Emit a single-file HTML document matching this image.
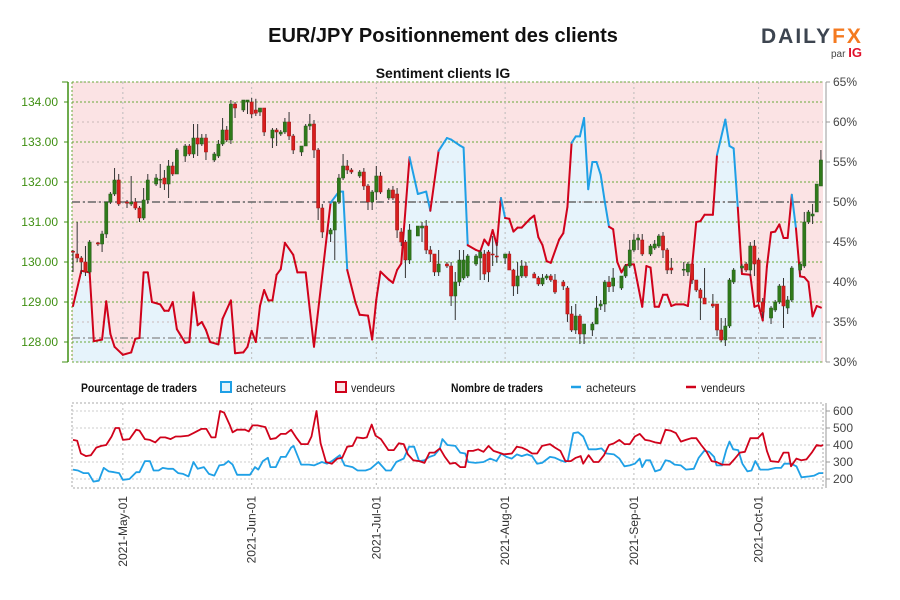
<!DOCTYPE html>
<html><head><meta charset="utf-8">
<style>
body{margin:0;background:#fff;}
svg{display:block;font-family:"Liberation Sans",sans-serif;}
.n{font-family:"Liberation Sans Narrow","Liberation Sans",sans-serif;}
</style></head>
<body>
<svg id="chart" width="900" height="600" viewBox="0 0 900 600">
<text x="443" y="42" text-anchor="middle" font-size="20" font-weight="bold" fill="#111">EUR/JPY Positionnement des clients</text>
<g>
<text x="761" y="43" font-size="21" font-weight="bold" fill="#3d4550" letter-spacing="2">DAILY<tspan fill="#f47a20">FX</tspan></text>
<text x="831" y="57" font-size="10" fill="#444">par <tspan fill="#e0102a" font-weight="bold" font-size="13">IG</tspan></text>
</g>
<text x="443" y="78" text-anchor="middle" font-size="14" font-weight="bold" fill="#111">Sentiment clients IG</text>
<g id="main"></g>
<g class="n" font-size="12">
<text x="81" y="392" font-weight="bold" fill="#111" textLength="116" lengthAdjust="spacingAndGlyphs">Pourcentage de traders</text>
<rect x="221" y="382" width="10" height="10" fill="#e6f3fb" stroke="#1fa0e6" stroke-width="2"/>
<text x="236" y="392" fill="#222" textLength="50" lengthAdjust="spacingAndGlyphs">acheteurs</text>
<rect x="336" y="382" width="10" height="10" fill="#fbe3e4" stroke="#d0021b" stroke-width="2"/>
<text x="351" y="392" fill="#222" textLength="44" lengthAdjust="spacingAndGlyphs">vendeurs</text>
<text x="451" y="392" font-weight="bold" fill="#111" textLength="92" lengthAdjust="spacingAndGlyphs">Nombre de traders</text>
<line x1="571" y1="387" x2="581" y2="387" stroke="#1fa0e6" stroke-width="2.5"/>
<text x="586" y="392" fill="#222" textLength="50" lengthAdjust="spacingAndGlyphs">acheteurs</text>
<line x1="686" y1="387" x2="696" y2="387" stroke="#d0021b" stroke-width="2.5"/>
<text x="701" y="392" fill="#222" textLength="44" lengthAdjust="spacingAndGlyphs">vendeurs</text>
</g>
<g id="sub"></g>
</svg>
<script>
// ---- data ----
const monthLabels = ["2021-May-01","2021-Jun-01","2021-Jul-01","2021-Aug-01","2021-Sep-01","2021-Oct-01"];
const monthDays = [12,43,73,104,135,165];
const priceTicks = [128,129,130,131,132,133,134];
const pctTicks = [30,35,40,45,50,55,60,65];
const countTicks = [200,300,400,500,600];

const sDays = [0,2,4,5,7,8,9,10,12,14,15,16,17,18,19,21,22,23,24,25,27,28,29,30,31,32,33,35,36,38,39,41,42,43,44,45,46,47,48,49,50,51,53,54,56,57,58,62,64,65,66,68,69,71,72,73,74,76,77,78,79,81,83,85,86,88,90,91,93,94,95,97,98,99,100,101,102,103,104,105,106,107,108,110,111,112,113,114,115,117,118,119,120,121,122,123,124,125,126,127,128,129,130,131,132,133,134,135,137,138,139,140,141,142,143,144,145,147,148,149,150,151,152,154,155,157,158,159,160,161,163,164,165,166,167,168,169,170,171,172,173,174,175,176,177,178,179,180];
const sPct = [37.0,41.4,41.2,32.6,32.8,37.6,33.5,31.9,30.9,31.2,32.9,33.0,41.2,41.2,37.5,37.2,36.4,36.4,37.5,34.1,32.4,32.5,38.7,34.6,35.0,34.0,32.5,32.2,35.4,37.7,31.1,31.2,31.9,33.9,32.5,37.0,39.0,37.7,37.7,40.9,41.6,44.9,43.4,41.2,41.2,36.5,31.9,49.9,51.3,51.3,41.5,37.4,35.9,35.8,32.8,37.8,41.3,40.3,39.9,41.5,42.3,55.6,51.0,51.3,48.9,56.4,58.0,57.8,57.1,56.8,44.6,44.0,43.8,45.3,44.6,46.5,44.6,50.5,48.0,47.9,46.3,46.8,46.8,47.9,48.3,45.6,44.6,42.6,42.4,45.3,46.1,49.4,57.4,58.2,58.2,60.5,51.6,55.0,55.0,53.4,50.0,46.9,46.6,42.5,41.2,42.1,42.2,42.2,36.9,42.0,41.8,36.9,36.9,38.4,38.4,37.0,37.2,37.2,37.0,42.0,47.5,47.6,48.4,48.4,55.9,60.3,57.0,56.7,49.3,41.0,40.9,36.9,37.1,35.2,41.9,46.2,46.3,47.2,45.5,45.5,50.9,46.7,40.7,40.6,40.0,35.7,37.0,36.8];

const cDays = [0,1,2,3,4,6,7,8,9,10,11,13,14,15,16,17,18,20,21,22,23,24,25,27,28,29,30,31,32,34,35,36,37,38,39,41,42,43,44,45,46,48,49,50,51,52,53,55,56,57,58,59,60,62,63,64,65,66,67,69,70,71,72,73,74,76,77,78,79,80,81,83,84,85,86,87,88,90,91,92,93,94,95,97,98,99,100,101,102,104,105,106,107,108,109,111,112,113,114,115,116,118,119,120,121,122,123,125,126,127,128,129,130,132,133,134,135,136,137,139,140,141,142,143,144,147,148,149,150,151,152,154,155,156,157,158,159,161,162,163,164,165,166,168,169,170,171,172,173,175,176,177,178,179,180];
const cOpen = [130.27,130.2,130.1,130.0,129.75,130.48,130.45,130.7,131.5,131.7,132.05,131.5,131.45,131.5,131.35,131.1,131.55,131.95,132.05,132.1,131.95,132.4,132.2,132.65,132.9,132.7,133.1,132.95,133.1,132.55,132.65,132.95,133.3,133.05,133.95,133.8,134.0,134.0,133.8,133.75,133.85,133.1,133.3,133.2,133.25,133.5,133.15,132.75,132.9,133.4,133.45,132.8,131.35,130.7,130.8,131.5,132.1,132.4,132.3,132.15,132.25,131.9,131.5,131.75,132.15,131.6,131.8,131.7,130.75,130.5,130.05,130.65,130.85,130.9,130.3,130.2,129.75,129.95,129.9,129.15,129.5,129.6,129.65,129.95,130.1,130.2,130.25,130.2,130.15,130.1,130.2,129.8,129.4,129.65,129.9,129.7,129.6,129.45,129.6,129.65,129.55,129.5,129.35,128.7,128.3,128.65,128.2,128.3,128.45,128.9,128.95,129.5,129.4,129.35,129.65,129.9,130.3,130.55,130.55,130.2,130.35,130.4,130.65,130.3,129.85,129.8,129.75,129.95,129.55,129.3,129.1,128.95,128.95,128.3,128.05,128.4,129.5,129.85,129.95,129.8,130.4,130.05,129.0,128.6,128.8,129.0,129.4,128.85,129.05,129.8,129.9,131.0,131.15,131.25,131.9];
const cHigh = [130.3,131.0,130.15,130.4,130.55,130.5,130.78,131.5,131.75,132.35,132.2,131.55,132.15,131.6,131.4,131.85,132.2,132.2,132.45,132.3,132.55,132.5,132.85,132.95,132.95,133.45,133.45,133.2,133.2,132.75,133.05,133.6,133.4,134.05,134.0,134.05,134.05,134.1,134.08,133.85,133.85,133.35,133.35,133.3,133.6,133.75,133.2,132.9,133.45,133.7,133.55,132.85,131.45,130.85,131.5,132.2,132.7,132.55,132.35,132.3,132.35,131.95,131.8,132.4,132.25,131.85,131.9,131.85,130.85,130.55,130.95,130.9,131.0,131.05,130.4,130.2,130.3,130.0,130.0,129.75,130.3,130.3,130.2,130.2,130.3,130.3,130.3,130.65,130.5,130.2,130.27,129.83,130.0,130.05,130.0,129.75,129.65,129.7,129.7,129.7,129.7,129.55,129.4,128.9,128.95,128.7,128.45,128.5,129.15,129.05,129.55,129.65,129.85,129.65,129.95,130.55,130.7,130.7,130.7,130.45,130.55,130.7,130.75,130.35,130.1,130.0,130.0,129.95,129.55,129.35,129.85,129.2,128.95,128.6,128.6,129.6,129.85,129.95,130.0,130.5,130.55,130.1,129.1,128.9,129.05,129.45,129.6,129.15,129.9,130.0,131.25,131.3,131.45,131.95,132.8];
const cLow = [129.75,130.0,129.7,129.65,129.7,130.4,130.25,130.6,131.45,131.65,131.4,131.35,131.4,131.3,131.0,131.05,131.45,131.9,131.85,131.8,131.6,132.15,132.2,132.5,132.65,132.6,132.65,132.9,132.55,132.5,132.6,132.9,133.0,132.95,133.6,133.75,133.7,133.6,133.65,133.65,133.15,132.85,132.9,133.15,133.2,133.05,132.7,132.65,132.9,133.3,132.6,131.05,130.6,130.5,130.05,131.45,132.05,132.2,132.2,132.1,131.8,131.3,131.3,131.55,131.7,131.55,131.55,130.6,130.4,129.6,129.95,130.65,130.5,130.2,130.0,129.65,129.65,129.85,128.9,128.55,129.4,129.55,129.6,129.9,129.55,129.55,129.5,129.9,129.98,129.95,129.8,129.15,129.2,129.6,129.6,129.6,129.4,129.4,129.55,129.5,129.2,129.3,128.5,128.25,128.2,127.95,127.95,128.15,128.45,128.8,128.75,129.25,129.25,129.3,129.6,129.85,130.25,130.3,130.15,130.15,130.3,130.35,130.1,129.7,129.7,129.65,129.65,129.45,129.25,128.55,128.95,128.85,128.15,128.0,127.9,128.35,129.45,129.75,129.75,129.65,129.65,128.95,128.6,128.45,128.75,128.95,128.35,128.7,129.0,129.7,129.85,130.95,130.95,131.25,131.9];
const cClose = [130.25,130.1,130.0,129.75,130.5,130.45,130.7,131.5,131.7,132.05,131.45,131.47,131.5,131.35,131.1,131.55,132.05,132.1,132.07,131.95,132.4,132.2,132.8,132.9,132.7,133.1,132.95,133.1,132.75,132.7,132.95,133.3,133.05,133.95,133.85,134.05,134.05,133.7,133.72,133.85,133.25,133.3,133.25,133.25,133.5,133.15,132.8,132.9,133.4,133.45,132.8,131.35,130.75,130.8,131.5,132.1,132.4,132.3,132.25,132.25,131.9,131.5,131.75,132.15,131.75,131.8,131.6,130.8,130.5,130.05,130.8,130.9,130.9,130.3,130.2,129.75,129.95,129.9,129.15,129.5,130.05,130.05,130.15,130.15,130.25,129.7,129.75,130.18,130.13,130.2,129.8,129.4,129.65,129.9,129.65,129.6,129.45,129.6,129.65,129.55,129.25,129.4,128.7,128.3,128.65,128.2,128.45,128.45,128.85,128.95,129.5,129.38,129.6,129.65,129.9,130.3,130.55,130.6,130.2,130.4,130.45,130.65,130.3,129.8,129.8,129.82,129.95,129.55,129.3,129.1,128.95,128.9,128.3,128.05,128.4,129.55,129.8,129.9,129.8,130.4,129.95,129.0,128.75,128.85,129.0,129.4,128.9,129.05,129.85,129.95,131.0,131.25,131.2,131.95,132.55];

const buyDays = [0,1.2,2.5,3.7,4.9,6.2,7.4,8.6,9.9,11.1,12,13.6,15.2,16,17.3,18.5,19.4,20.6,21.6,22.8,24.1,25.3,26.5,27.8,29,30,31.5,32.7,34,35.2,36.4,37.4,38.4,39.5,41.4,42.6,43.8,44.6,45.7,46.9,47.5,48.8,50,51.2,52.5,53.1,54.9,56.8,58,59.9,61.1,62.3,64.2,65.4,67.3,68.5,70.4,71.6,73.5,75.3,76.5,77.8,79.6,80.9,82.1,83.3,84.6,85.8,87,88.3,88.9,90.1,92,93.2,94.4,95.1,96.9,98.8,100.4,101.9,103.1,104.3,105.6,106.8,108,109.3,110.5,111.7,112.9,114.8,116,117.3,118.5,119.1,120.4,121.6,122.8,124.1,125.9,127.2,128.4,130.2,131.5,132.7,134,135.2,136.4,137,137.9,138.9,140.1,141.4,142.6,143.6,144.8,146.3,147.5,149.4,150.6,151.9,153.1,154.3,154.9,156.2,157.2,158,158.9,160.1,161.1,162.3,163.3,164.2,165.4,167.3,169.1,170.4,171.2,172.8,174.1,175.3,177.2,178.4,179.6,180.5];
const buyCount = [255,250,235,235,185,190,265,245,240,235,195,200,240,240,305,305,250,250,265,260,260,235,230,215,300,260,270,230,220,280,285,305,285,225,225,225,270,255,305,325,270,270,330,330,385,395,285,285,280,300,290,305,340,280,270,250,250,260,300,250,250,300,320,390,390,305,310,330,340,380,435,400,395,355,350,300,295,300,320,305,350,330,320,345,335,345,335,290,295,330,325,310,300,310,470,475,450,375,375,380,350,345,320,275,280,290,320,270,310,310,245,255,310,305,285,280,255,260,325,365,360,330,280,280,370,420,375,370,290,245,250,305,255,255,265,265,290,290,275,210,215,220,235,235];
const sellDays = [0,1,1.9,3.1,4.3,5.6,6.8,8,9.3,10.2,11.1,12,13.6,15.2,16,17.3,18.5,19.8,21,22.2,23.5,24.7,25.9,27.8,29,30.9,32.1,33.3,34.3,35.4,36.4,37.7,38.4,39.5,41.4,42.3,43.2,44.4,46.3,47.5,48.8,50,51.2,52.5,53.7,54.9,56.5,57.4,58.6,59.6,60.9,62.3,63.6,64.8,66,67.3,68.3,69.8,70.7,71.9,72.8,74.1,75.9,77.2,78.4,79.6,80.6,81.9,83.3,84.6,85.8,87,88.3,89.5,90.7,92,93.2,94.4,95.1,96.3,97.5,98.8,100,101.2,102.5,103.7,105.6,106.8,108,109.3,110.5,111.7,112.9,114.8,116,117.3,118.5,119.8,121,122.2,122.8,124.1,125.3,126.5,127.8,129,130.2,131.5,132.7,134,135.2,136.4,137.7,138.9,140.1,141.4,142.6,143.8,145.1,146.3,147.5,148.8,150,151.2,152.5,153.7,154.9,156.2,158,159.3,160.5,161.7,163,164.8,166,167,167.9,169.8,171,172.2,172.8,174.1,175.3,176.5,177.8,179,180,180.5];
const sellCount = [430,425,350,335,340,385,395,400,450,500,500,430,435,490,485,435,430,415,445,445,435,450,450,455,470,495,495,445,445,600,590,520,475,490,490,480,515,515,505,435,440,465,465,490,445,405,405,450,600,410,300,290,320,325,390,395,445,440,445,520,455,435,370,370,410,405,345,310,305,295,355,355,380,330,290,295,270,270,365,365,375,360,395,365,355,345,350,390,385,370,350,350,395,405,385,365,305,305,325,335,290,340,300,300,340,400,410,430,405,405,450,465,430,425,415,410,490,485,470,420,430,440,440,400,360,305,300,285,285,320,355,360,440,440,470,365,305,300,355,355,275,320,310,315,355,400,395,400];

// ---- scales ----
const NS = "http://www.w3.org/2000/svg";
const L = 72, R = 823, T = 82, B = 362;
const xS = d => 73 + d * 4.155;
const pS = p => 102 + (134 - p) * 40;
const qS = v => T + (65 - v) * 8;
const ST = 403, SB = 488;
const cS = v => 479 - (v - 200) * 0.17;
function mk(parent, tag, attrs) {
  const e = document.createElementNS(NS, tag);
  for (const k in attrs) e.setAttribute(k, attrs[k]);
  parent.appendChild(e);
  return e;
}
const main = document.getElementById('main');
const sub = document.getElementById('sub');

let e;
e = mk(main, 'rect', {x: L, y: T, width: R - L, height: B - T, fill: '#fbe3e4'});


let ad = 'M' + xS(sDays[0]) + ' ' + B;
for (let i = 0; i < sDays.length; i++) ad += ' L' + xS(sDays[i]).toFixed(1) + ' ' + qS(sPct[i]).toFixed(1);
ad += ' L' + xS(sDays[sDays.length - 1]) + ' ' + B + ' Z';
e = mk(main, 'path', {d: ad, fill: '#e6f3fb'});



pctTicks.forEach(p => {
  e = mk(main, 'line', {x1: L, x2: R, y1: qS(p), y2: qS(p), stroke: '#c9b9b9', 'stroke-width': 1, 'stroke-dasharray': '2,3'});
  
  
});
[T, B].concat(priceTicks.map(pS)).forEach(y => {
  e = mk(main, 'line', {x1: L, x2: R, y1: y, y2: y, stroke: '#6aa83a', 'stroke-width': 1, 'stroke-dasharray': '2,2'});
  
  
});
e = mk(main, 'line', {x1: L, x2: L, y1: T, y2: B, stroke: '#6aa83a', 'stroke-dasharray': '2,2'});


monthDays.forEach(d => {
  e = mk(main, 'line', {x1: xS(d), x2: xS(d), y1: T, y2: B, stroke: '#bbb', 'stroke-dasharray': '2,3'});
  
  
});
[50, 33].forEach(p => {
  e = mk(main, 'line', {x1: L, x2: R, y1: qS(p), y2: qS(p), stroke: p === 50 ? '#666' : '#888', 'stroke-width': p === 50 ? 1.5 : 1.2, 'stroke-dasharray': '8,3,2,3'});
  
  
});

for (let i = 0; i < sDays.length - 1; i++) {
  e = mk(main, 'line', {x1: xS(sDays[i]), y1: qS(sPct[i]), x2: xS(sDays[i + 1]), y2: qS(sPct[i + 1]), stroke: sPct[i] >= 49.5 ? '#1fa0e6' : '#d0021b', 'stroke-width': 2, 'stroke-linecap': 'round'});
  
  
}

for (let i = 0; i < cDays.length; i++) {
  const x = xS(cDays[i]);
  const up = cClose[i] >= cOpen[i];
  e = mk(main, 'line', {x1: x, x2: x, y1: pS(cHigh[i]), y2: pS(cLow[i]), stroke: '#333', 'stroke-width': 1});
  
  
  const y1 = pS(Math.max(cOpen[i], cClose[i])), y2 = pS(Math.min(cOpen[i], cClose[i]));
  e = mk(main, 'rect', {x: x - 1.6, y: y1, width: 3.2, height: Math.max(1, y2 - y1), fill: up ? '#2f7a1a' : '#d81e1e', stroke: up ? '#24591a' : '#a01515', 'stroke-width': 0.5});
  
  
}

e = mk(main, 'line', {x1: 68, x2: 68, y1: T, y2: B, stroke: '#3f8f12', 'stroke-width': 1.5});


[T, B].forEach(y => { e = mk(main, 'line', {x1: 62, x2: 68, y1: y, y2: y, stroke: '#3f8f12'});   });
priceTicks.forEach(p => {
  e = mk(main, 'line', {x1: 64, x2: 68, y1: pS(p), y2: pS(p), stroke: '#3f8f12'});
  
  
  e = mk(main, 'text', {x: 58, y: pS(p) + 4, 'text-anchor': 'end', 'font-size': 12, fill: '#3f8f12', class: 'n'});
  e.textContent = p.toFixed(2);
  
  
});
e = mk(main, 'line', {x1: 826, x2: 826, y1: T, y2: B, stroke: '#999'});


pctTicks.forEach(p => {
  e = mk(main, 'line', {x1: 826, x2: 830, y1: qS(p), y2: qS(p), stroke: '#999'});
  
  
  e = mk(main, 'text', {x: 833, y: qS(p) + 4, 'font-size': 12, fill: '#444', class: 'n'});
  e.textContent = p + '%';
  
  
});

e = mk(sub, 'rect', {x: L, y: ST, width: R - L, height: SB - ST, fill: 'none', stroke: '#aaa', 'stroke-dasharray': '2,2'});


countTicks.forEach(v => {
  e = mk(sub, 'line', {x1: L, x2: R, y1: cS(v), y2: cS(v), stroke: '#ccc', 'stroke-dasharray': '2,2'});
  
  
  e = mk(sub, 'line', {x1: 826, x2: 830, y1: cS(v), y2: cS(v), stroke: '#999'});
  
  
  e = mk(sub, 'text', {x: 833, y: cS(v) + 4, 'font-size': 12, fill: '#444', class: 'n'});
  e.textContent = v;
  
  
});
e = mk(sub, 'line', {x1: 826, x2: 826, y1: ST, y2: SB, stroke: '#999'});


monthDays.forEach((d, i) => {
  e = mk(sub, 'line', {x1: xS(d), x2: xS(d), y1: ST, y2: SB, stroke: '#bbb', 'stroke-dasharray': '2,3'});
  
  
  e = mk(sub, 'text', {x: 0, y: 0, 'text-anchor': 'end', 'font-size': 12, fill: '#333', class: 'n', transform: 'translate(' + (xS(d) + 4) + ',496) rotate(-90)'});
  e.textContent = monthLabels[i];
  
  
});
function series(days, vals, color) {
  let d = '';
  for (let i = 0; i < days.length; i++) d += (i ? ' L' : 'M') + xS(days[i]).toFixed(1) + ' ' + cS(vals[i]).toFixed(1);
  return mk(sub, 'path', {d: d, fill: 'none', stroke: color, 'stroke-width': 1.8, 'stroke-linejoin': 'round'});
}
e = series(buyDays, buyCount, '#1fa0e6');


e = series(sellDays, sellCount, '#d0021b');


</script>
</body></html>
